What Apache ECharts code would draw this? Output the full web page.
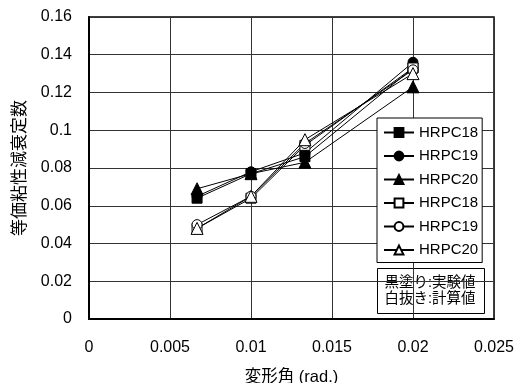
<!DOCTYPE html>
<html>
<head>
<meta charset="utf-8">
<script src="https://cdn.jsdelivr.net/npm/echarts@6/dist/echarts.min.js"></script>
<style>
  html, body { margin: 0; padding: 0; background: #fff; }
  #chart { width: 524px; height: 383px; }
</style>
</head>
<body>
<div id="chart"></div>
<script>
// Story drift angle (rad.)
const driftAngle = [0.00667, 0.01, 0.01333, 0.02];

// Equivalent viscous damping: test results (filled markers)
const testHRPC18 = [0.064, 0.077, 0.086, 0.133];
const testHRPC19 = [0.065, 0.078, 0.088, 0.136];
const testHRPC20 = [0.069, 0.077, 0.083, 0.123];

// Equivalent viscous damping: calculated (open markers)
const calcHRPC18 = [0.048, 0.064, 0.092, 0.133];
const calcHRPC19 = [0.050, 0.065, 0.093, 0.132];
const calcHRPC20 = [0.048, 0.065, 0.095, 0.130];

const xTicks = [0, 0.005, 0.01, 0.015, 0.02, 0.025];
const yTicks = [0, 0.02, 0.04, 0.06, 0.08, 0.1, 0.12, 0.14, 0.16];

const FONT = '"Liberation Sans", Arial, "Noto Sans CJK JP", sans-serif';

function pairs(ys) {
  return driftAngle.map((x, i) => [x, ys[i]]);
}

function makeSeries(name, ys, symbol, filled) {
  return {
    name: name,
    type: 'line',
    data: pairs(ys),
    symbol: symbol,
    symbolSize: symbol === 'triangle' ? 12 : 10,
    lineStyle: { color: '#000', width: 1 },
    itemStyle: {
      color: filled ? '#000' : '#fff',
      borderColor: '#000',
      borderWidth: 1
    },
    z: filled ? 3 : 4,
    animation: false
  };
}

const series = [
  makeSeries('HRPC18 実験', testHRPC18, 'rect', true),
  makeSeries('HRPC19 実験', testHRPC19, 'circle', true),
  makeSeries('HRPC20 実験', testHRPC20, 'triangle', true),
  makeSeries('HRPC18 計算', calcHRPC18, 'rect', false),
  makeSeries('HRPC19 計算', calcHRPC19, 'circle', false),
  makeSeries('HRPC20 計算', calcHRPC20, 'triangle', false)
];

const chart = echarts.init(document.getElementById('chart'), null, { renderer: 'canvas' });

chart.setOption({
  animation: false,
  backgroundColor: '#fff',
  textStyle: { fontFamily: FONT, color: '#000' },
  grid: {
    left: 89, right: 30, top: 17, bottom: 64,
    outerBoundsMode: 'none',
    containLabel: false,
    show: true, borderColor: '#000', borderWidth: 1.5
  },
  xAxis: {
    type: 'value',
    min: xTicks[0], max: xTicks[xTicks.length - 1],
    interval: xTicks[1] - xTicks[0],
    name: '変形角 (rad.)',
    nameLocation: 'middle',
    nameGap: 50,
    nameTextStyle: { fontSize: 16.5, color: '#000', fontFamily: FONT },
    axisLine: { lineStyle: { color: '#000', width: 2 } },
    axisTick: { show: false },
    axisLabel: { fontSize: 16, color: '#000', margin: 21, fontFamily: FONT },
    splitLine: { show: true, lineStyle: { color: '#333', width: 1 } }
  },
  yAxis: {
    type: 'value',
    min: yTicks[0], max: yTicks[yTicks.length - 1],
    interval: yTicks[1] - yTicks[0],
    name: '等価粘性減衰定数',
    nameLocation: 'middle',
    nameGap: 60,
    nameTextStyle: { fontSize: 17, color: '#000', fontFamily: FONT },
    axisLine: { lineStyle: { color: '#000', width: 2 } },
    axisTick: { show: false },
    axisLabel: { fontSize: 16, color: '#000', margin: 17, fontFamily: FONT },
    splitLine: { show: true, lineStyle: { color: '#333', width: 1 } }
  },
  legend: {
    orient: 'vertical',
    left: 377, top: 118,
    padding: [7, 4, 5, 6],
    itemWidth: 30, itemHeight: 11,
    itemGap: 8.5,
    backgroundColor: '#fff',
    borderColor: '#000', borderWidth: 1, borderRadius: 0,
    textStyle: { fontSize: 15, color: '#000', fontFamily: FONT },
    formatter: name => name.split(' ')[0],
    data: series.map(s => s.name)
  },
  graphic: [{
    type: 'group',
    left: 377, top: 268,
    z: 10,
    children: [{
      type: 'rect',
      shape: { x: 0, y: 0, width: 107, height: 45 },
      style: { fill: '#fff', stroke: '#000', lineWidth: 1 }
    }, {
      type: 'text',
      x: 7, y: 6,
      style: {
        text: '黒塗り:実験値\n白抜き:計算値',
        font: '14.5px ' + FONT,
        fill: '#000',
        lineHeight: 16
      }
    }]
  }],
  series: series
});
</script>
</body>
</html>
